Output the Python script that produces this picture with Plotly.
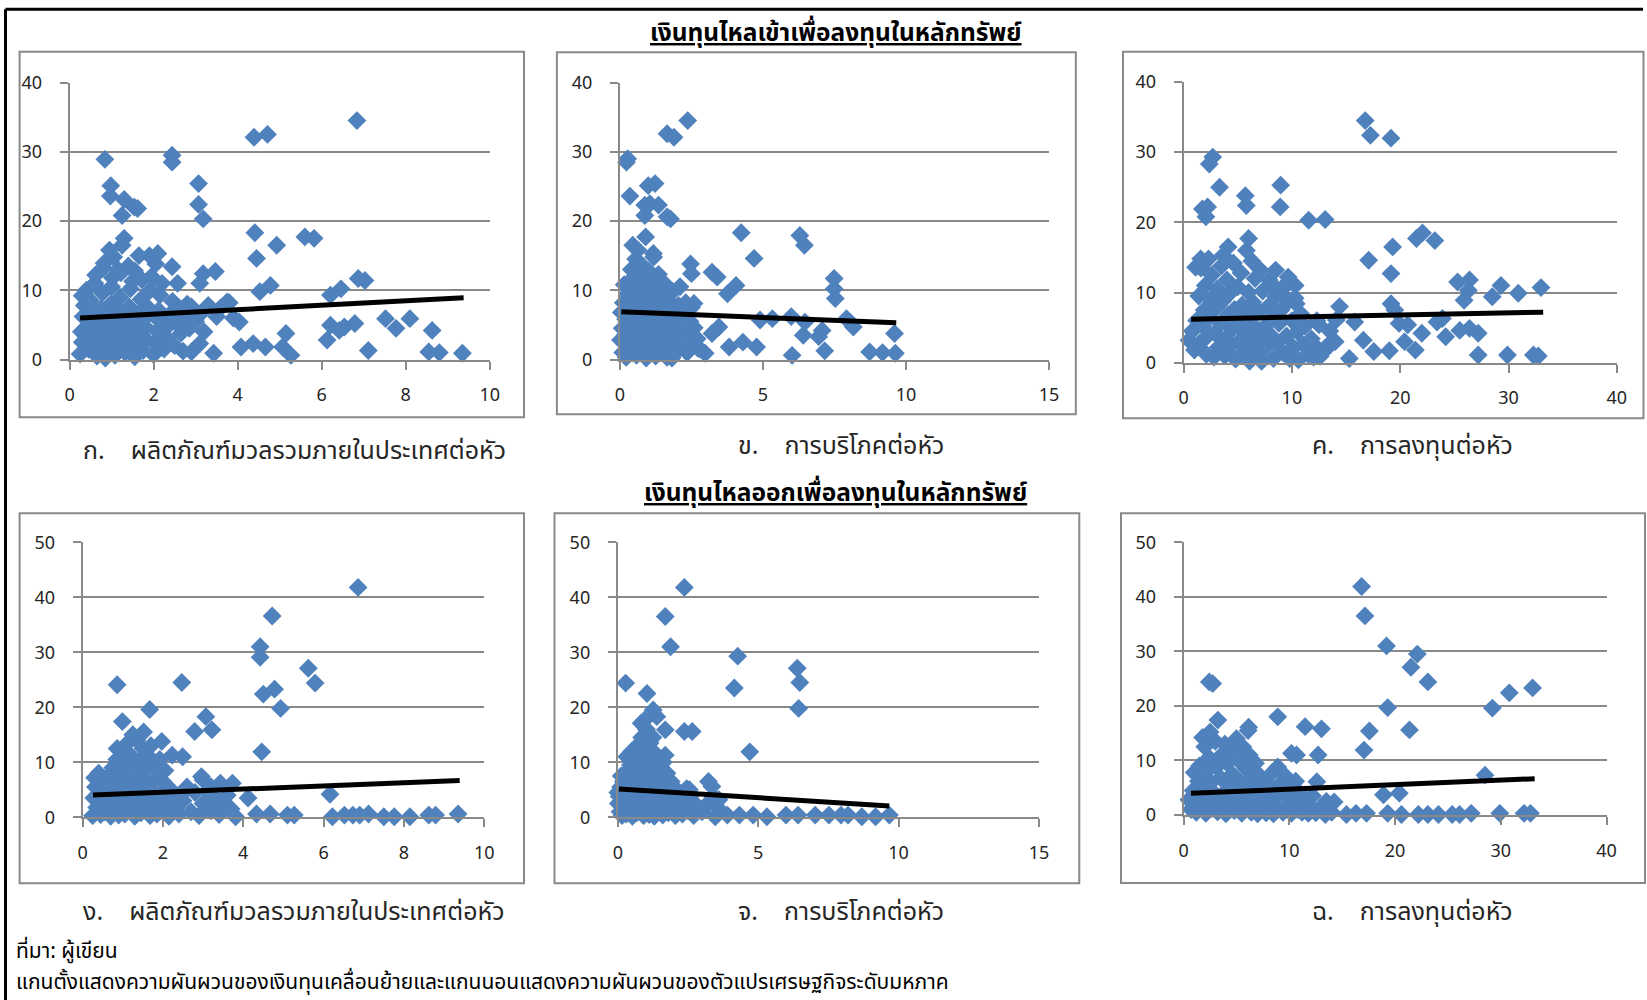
import plotly.graph_objects as go

# ---------------- DATA ----------------
# x: GDP per capita volatility, y: portfolio inflow volatility
gdp_inflow = [
    (6.84, 34.5), (4.39, 32.1), (4.71, 32.5), (0.84, 28.9), (2.44, 29.5), (2.44, 28.5),
    (3.07, 25.4), (0.98, 25.1), (0.97, 23.6), (3.07, 22.4), (3.18, 20.3), (1.30, 23.1),
    (1.54, 22.0), (1.62, 21.8), (1.25, 20.8), (4.41, 18.3), (4.45, 14.6), (4.93, 16.5),
    (5.60, 17.7), (5.82, 17.5), (6.87, 11.7), (7.03, 11.4), (4.78, 10.7), (4.53, 9.8),
    (6.46, 10.2), (6.21, 9.3), (3.47, 12.7), (3.18, 12.4), (3.10, 11.0), (2.44, 13.4),
    (2.57, 11.0), (3.75, 8.3), (4.04, 5.4), (3.50, 6.2), (7.52, 5.9), (7.77, 4.5),
    (8.10, 5.9), (8.63, 4.2), (8.55, 1.1), (8.80, 1.0), (9.35, 0.9), (7.11, 1.3),
    (6.13, 2.8), (6.21, 4.95), (6.54, 4.7), (6.79, 5.2), (6.42, 4.2), (5.15, 3.75),
    (5.27, 0.6), (5.07, 1.8), (4.08, 1.8), (4.37, 2.3), (4.66, 1.8), (3.43, 0.9),
    (3.10, 2.3), (2.90, 1.1),
    (0.25, 0.8), (0.30, 2.5), (0.28, 4.0), (0.32, 6.2), (0.35, 7.8), (0.30, 9.2), (0.40, 10.0),
    (0.45, 1.5), (0.50, 3.3), (0.48, 5.1), (0.55, 6.8), (0.50, 8.5), (0.60, 11.0), (0.62, 12.2),
    (0.65, 0.5), (0.70, 2.0), (0.72, 4.4), (0.68, 5.9), (0.75, 7.3), (0.78, 9.6), (0.80, 13.2),
    (0.82, 13.9), (0.85, 0.2), (0.88, 1.2), (0.90, 3.0), (0.92, 4.8), (0.95, 6.5), (0.98, 8.0),
    (1.00, 10.5), (1.02, 11.8), (1.05, 14.8), (1.08, 0.6), (1.10, 2.2), (1.12, 3.8), (1.15, 5.5),
    (1.18, 7.0), (1.20, 9.0), (1.22, 12.5), (1.25, 16.5), (1.30, 17.5), (1.32, 1.0), (1.35, 2.8),
    (1.38, 4.5), (1.40, 6.0), (1.42, 7.6), (1.45, 10.2), (1.50, 11.3), (1.55, 0.4), (1.58, 2.0),
    (1.60, 3.6), (1.62, 5.2), (1.65, 15.0), (1.68, 6.8), (1.70, 8.7), (1.72, 11.5), (1.75, 1.3),
    (1.80, 3.0), (1.82, 4.6), (1.85, 6.3), (1.88, 7.4), (1.90, 15.0), (1.92, 10.0), (1.95, 12.0),
    (2.00, 0.7), (2.02, 2.4), (2.05, 13.8), (2.08, 4.1), (2.10, 5.8), (2.12, 7.1), (2.15, 9.3),
    (2.20, 11.0), (2.25, 1.5), (2.30, 3.2), (2.35, 4.9), (2.40, 6.6), (2.45, 8.4), (2.50, 2.0),
    (2.55, 5.2), (2.60, 7.5), (2.65, 3.8), (2.70, 1.2), (2.75, 6.0), (2.80, 8.0), (2.85, 4.5),
    (2.90, 7.6), (3.00, 5.5), (3.10, 6.5), (3.20, 4.0), (3.30, 7.8), (3.60, 7.5), (3.80, 8.2),
    (3.90, 6.0), (1.15, 13.0), (0.95, 15.8), (1.40, 13.5), (2.10, 15.3), (1.55, 12.8),
]

# x: consumption per capita volatility, y: portfolio inflow volatility
cons_inflow = [
    (2.37, 34.5), (1.65, 32.6), (1.89, 32.1), (0.27, 29.0), (0.23, 28.5), (0.35, 23.6),
    (0.99, 25.1), (1.23, 25.4), (0.87, 22.3), (1.05, 22.5), (1.35, 22.3), (0.87, 20.8),
    (1.65, 20.6), (1.77, 20.3), (4.24, 18.3), (6.29, 17.9), (6.45, 16.5), (4.69, 14.6),
    (0.90, 17.7), (0.45, 16.5), (0.63, 15.8), (1.17, 15.3), (2.47, 13.8), (2.50, 12.4),
    (3.22, 12.6), (3.40, 11.9), (4.06, 10.7), (3.76, 9.5), (7.49, 11.7), (7.49, 10.2),
    (7.53, 8.8), (4.90, 5.7), (5.33, 5.9), (5.99, 6.2), (6.47, 5.4), (6.41, 3.5),
    (7.07, 4.2), (6.95, 3.3), (7.92, 5.9), (8.16, 4.7), (8.04, 5.4), (6.02, 0.6),
    (7.16, 1.25), (8.73, 1.1), (9.18, 1.0), (9.63, 0.9), (9.60, 3.75), (4.30, 2.5),
    (4.78, 1.8), (3.82, 1.8), (2.98, 0.9), (2.73, 1.6), (3.22, 3.75), (3.46, 4.7),
    (2.59, 8.1),
    (0.02, 2.8), (0.05, 6.8), (0.08, 4.5), (0.10, 1.0), (0.12, 8.2), (0.15, 10.8), (0.18, 3.5),
    (0.20, 5.8), (0.22, 0.3), (0.25, 7.5), (0.28, 9.5), (0.30, 2.0), (0.32, 11.2), (0.35, 4.2),
    (0.38, 6.3), (0.40, 13.0), (0.42, 1.2), (0.45, 8.8), (0.48, 3.0), (0.50, 10.0), (0.52, 5.0),
    (0.55, 14.5), (0.58, 0.6), (0.60, 7.0), (0.62, 12.0), (0.65, 2.5), (0.68, 4.8), (0.70, 9.0),
    (0.72, 6.0), (0.75, 11.5), (0.78, 1.5), (0.80, 13.5), (0.82, 3.6), (0.85, 8.0), (0.88, 5.5),
    (0.90, 10.5), (0.92, 0.2), (0.95, 2.2), (0.98, 7.2), (1.00, 12.8), (1.02, 4.0), (1.05, 9.5),
    (1.08, 6.5), (1.10, 1.0), (1.12, 11.0), (1.15, 3.2), (1.18, 14.8), (1.20, 8.5), (1.22, 5.2),
    (1.25, 0.5), (1.28, 10.2), (1.30, 2.7), (1.32, 7.0), (1.35, 12.3), (1.38, 4.5), (1.40, 6.1),
    (1.45, 1.8), (1.50, 9.0), (1.52, 3.5), (1.55, 11.0), (1.60, 5.0), (1.62, 7.6), (1.65, 0.3),
    (1.70, 2.4), (1.72, 8.4), (1.75, 4.2), (1.80, 6.5), (1.82, 0.2), (1.85, 9.8), (1.90, 3.0),
    (1.95, 5.6), (2.00, 1.2), (2.05, 7.8), (2.10, 10.5), (2.15, 4.0), (2.20, 2.0), (2.25, 6.2),
    (2.30, 8.2), (2.35, 1.0), (2.40, 3.8), (2.45, 5.5), (2.50, 7.5), (2.55, 2.2), (2.60, 4.6),
    (2.70, 3.0), (2.80, 1.5),
]

# x: investment per capita volatility, y: portfolio inflow volatility
inv_inflow = [
    (16.77, 34.5), (17.25, 32.4), (19.15, 32.0), (2.69, 29.3), (2.37, 28.3), (3.32, 25.0),
    (8.96, 25.3), (8.92, 22.2), (5.70, 23.8), (5.79, 22.4), (1.74, 21.9), (2.22, 22.2),
    (2.06, 20.8), (11.55, 20.3), (13.07, 20.4), (21.50, 17.7), (22.06, 18.5), (23.20, 17.4),
    (19.30, 16.5), (17.09, 14.6), (19.15, 12.7), (6.00, 17.7), (4.11, 16.5), (3.64, 15.3),
    (1.58, 14.8), (1.11, 13.6), (25.30, 11.5), (26.40, 11.8), (26.30, 10.3), (25.90, 8.9),
    (29.30, 11.0), (28.50, 9.4), (30.90, 9.9), (33.00, 10.7), (25.50, 4.6), (26.40, 4.9),
    (27.20, 4.2), (27.20, 1.1), (29.90, 1.1), (32.30, 1.1), (32.75, 0.95), (24.20, 3.7),
    (23.40, 5.8), (23.90, 6.3), (22.00, 4.2), (21.40, 1.8), (20.40, 3.0), (19.15, 8.4),
    (19.50, 7.5), (19.90, 5.6), (20.70, 5.4), (19.00, 1.7), (16.60, 3.2), (17.56, 1.6),
    (15.30, 0.6), (15.80, 5.8), (14.40, 8.0), (14.10, 6.1), (12.50, 5.4), (13.80, 3.2),
    (13.40, 2.3), (12.20, 2.3), (12.60, 0.9), (10.30, 11.0), (9.65, 12.2), (10.40, 8.4),
    (8.50, 13.2), (8.07, 11.3), (9.00, 10.3),
    (0.5, 3.2), (0.8, 4.5), (1.0, 1.8), (1.2, 6.0), (1.4, 9.5), (1.5, 2.8), (1.6, 13.5),
    (1.8, 5.2), (1.9, 7.5), (2.0, 11.0), (2.1, 1.2), (2.2, 3.8), (2.3, 14.8), (2.4, 6.6),
    (2.5, 9.0), (2.6, 12.5), (2.8, 0.8), (2.9, 4.2), (3.0, 7.8), (3.1, 10.5), (3.2, 2.2),
    (3.4, 5.5), (3.5, 13.8), (3.6, 8.8), (3.8, 1.0), (3.9, 3.5), (4.0, 11.8), (4.1, 6.8),
    (4.2, 9.8), (4.4, 2.5), (4.5, 4.8), (4.6, 14.2), (4.7, 7.6), (4.8, 0.5), (5.0, 10.8),
    (5.1, 3.0), (5.2, 5.8), (5.3, 12.8), (5.4, 8.2), (5.6, 1.6), (5.7, 4.2), (5.8, 16.0),
    (5.9, 6.8), (6.0, 10.0), (6.1, 0.2), (6.2, 2.8), (6.3, 14.5), (6.4, 8.6), (6.5, 5.2),
    (6.6, 12.0), (6.8, 1.2), (6.9, 3.6), (7.0, 7.2), (7.1, 13.2), (7.2, 0.2), (7.3, 10.2),
    (7.4, 5.0), (7.6, 2.2), (7.8, 8.0), (7.9, 11.8), (8.0, 4.0), (8.2, 6.2), (8.3, 0.6),
    (8.5, 9.4), (8.6, 2.8), (8.8, 5.6), (9.0, 7.5), (9.2, 1.4), (9.3, 11.0), (9.5, 3.8),
    (9.7, 8.8), (9.8, 0.6), (10.0, 6.0), (10.1, 2.2), (10.3, 9.2), (10.5, 4.4), (10.6, 0.4),
    (10.8, 7.0), (11.0, 2.6), (11.2, 5.2), (11.5, 1.2), (11.8, 3.4), (12.0, 0.8), (12.3, 6.0),
    (13.0, 2.0), (13.5, 4.5), (14.0, 3.0),
]

# x: GDP per capita volatility, y: portfolio outflow volatility
gdp_outflow = [
    (6.86, 41.8), (4.72, 36.6), (4.42, 31.0), (4.42, 29.1), (5.62, 27.1), (5.79, 24.4),
    (0.86, 24.1), (2.47, 24.5), (4.50, 22.4), (4.78, 23.3), (4.93, 19.8), (1.67, 19.6),
    (3.07, 18.3), (3.22, 15.9), (2.79, 15.6), (4.46, 11.9), (2.23, 11.3), (2.49, 11.0),
    (1.97, 13.8), (0.99, 17.4), (0.86, 12.5), (2.96, 7.4), (3.43, 6.2), (3.73, 6.2),
    (4.12, 3.5), (6.16, 4.2), (3.81, 0.1), (4.33, 0.6), (4.67, 0.6), (5.10, 0.4),
    (5.27, 0.4), (6.22, 0.1), (6.52, 0.4), (6.73, 0.4), (6.90, 0.4), (7.12, 0.6),
    (7.50, 0.1), (7.76, 0.1), (8.15, 0.1), (8.62, 0.4), (8.79, 0.4), (9.35, 0.6),
    (0.25, 0.3), (0.28, 3.5), (0.30, 7.2), (0.32, 5.5), (0.35, 1.8), (0.40, 8.0), (0.42, 4.5),
    (0.45, 0.5), (0.50, 2.8), (0.52, 6.2), (0.55, 1.0), (0.60, 5.0), (0.62, 3.0), (0.65, 7.5),
    (0.70, 0.2), (0.72, 2.2), (0.75, 9.0), (0.78, 4.2), (0.80, 6.4), (0.82, 1.2), (0.85, 10.5),
    (0.88, 3.5), (0.90, 0.4), (0.92, 8.2), (0.95, 5.5), (0.98, 12.0), (1.00, 2.0), (1.02, 7.0),
    (1.05, 0.6), (1.08, 9.8), (1.10, 4.0), (1.12, 13.5), (1.15, 1.5), (1.18, 6.0), (1.20, 11.2),
    (1.22, 3.0), (1.25, 15.0), (1.28, 8.5), (1.30, 0.2), (1.32, 5.2), (1.35, 14.0), (1.38, 2.5),
    (1.40, 10.0), (1.42, 7.2), (1.45, 0.8), (1.48, 4.5), (1.50, 12.5), (1.52, 15.5), (1.55, 1.8),
    (1.58, 8.8), (1.60, 6.0), (1.62, 3.2), (1.65, 11.0), (1.68, 0.3), (1.70, 13.0), (1.72, 5.0),
    (1.75, 2.0), (1.78, 9.5), (1.80, 7.0), (1.85, 0.6), (1.90, 4.0), (1.92, 10.5), (1.95, 1.2),
    (2.00, 6.5), (2.05, 8.5), (2.10, 2.8), (2.15, 0.2), (2.20, 5.0), (2.25, 1.5), (2.30, 4.0),
    (2.40, 0.6), (2.50, 3.0), (2.60, 5.5), (2.70, 1.0), (2.80, 4.5), (2.90, 0.3), (3.00, 2.5),
    (3.10, 4.8), (3.20, 1.2), (3.30, 3.5), (3.40, 0.5), (3.50, 2.2), (3.60, 4.0), (3.70, 1.5),
    (3.00, 6.8), (3.20, 5.5), (2.55, 4.8),
]

# x: consumption per capita volatility, y: portfolio outflow volatility
cons_outflow = [
    (2.37, 41.8), (1.69, 36.5), (1.88, 31.0), (4.27, 29.3), (4.15, 23.5), (6.39, 27.1),
    (6.48, 24.5), (6.44, 19.8), (0.28, 24.4), (1.04, 22.5), (4.70, 11.9), (2.37, 15.6),
    (2.65, 15.6), (1.69, 15.9), (1.26, 19.5), (1.39, 18.3), (0.83, 17.1), (0.96, 17.7),
    (1.69, 11.3), (3.23, 6.5), (3.35, 5.6), (2.55, 5.0), (2.86, 1.9), (3.60, 3.2),
    (3.47, 0.1), (3.90, 0.4), (4.33, 0.4), (4.82, 0.4), (5.31, 0.1), (5.99, 0.4),
    (6.42, 0.4), (7.03, 0.4), (7.52, 0.4), (7.95, 0.4), (8.20, 0.4), (8.69, 0.1),
    (9.18, 0.1), (9.67, 0.4),
    (0.00, 4.5), (0.02, 2.5), (0.05, 3.8), (0.08, 1.0), (0.10, 5.5), (0.12, 7.5), (0.15, 0.3),
    (0.18, 3.0), (0.20, 6.5), (0.22, 1.8), (0.25, 4.0), (0.28, 8.0), (0.30, 0.6), (0.32, 11.0),
    (0.35, 2.5), (0.38, 5.0), (0.40, 7.0), (0.42, 1.2), (0.45, 9.5), (0.48, 3.5), (0.50, 12.0),
    (0.52, 0.2), (0.55, 6.0), (0.58, 4.2), (0.60, 10.5), (0.62, 2.0), (0.65, 8.5), (0.68, 0.8),
    (0.70, 13.0), (0.72, 5.5), (0.75, 3.2), (0.78, 11.5), (0.80, 7.2), (0.82, 1.5), (0.85, 14.5),
    (0.88, 4.5), (0.90, 9.0), (0.92, 0.3), (0.95, 6.2), (0.98, 12.5), (1.00, 2.5), (1.02, 16.0),
    (1.05, 8.0), (1.08, 4.0), (1.10, 10.5), (1.12, 0.5), (1.15, 13.5), (1.18, 6.0), (1.20, 2.0),
    (1.22, 9.0), (1.25, 14.5), (1.28, 4.8), (1.30, 0.2), (1.32, 7.5), (1.35, 11.5), (1.38, 3.0),
    (1.40, 5.8), (1.45, 1.0), (1.48, 9.8), (1.50, 7.0), (1.55, 3.8), (1.60, 0.4), (1.62, 10.0),
    (1.65, 5.5), (1.70, 2.2), (1.75, 8.0), (1.80, 0.8), (1.85, 4.5), (1.90, 6.5), (1.95, 1.5),
    (2.00, 3.0), (2.05, 0.3), (2.10, 5.0), (2.15, 2.0), (2.20, 4.0), (2.30, 0.6), (2.40, 2.8),
    (2.45, 5.2), (2.50, 1.2), (2.60, 4.0), (2.70, 0.3), (2.80, 2.2), (3.00, 1.0), (3.20, 2.5),
    (3.40, 3.8), (3.60, 1.5),
]

# x: investment per capita volatility, y: portfolio outflow volatility
inv_outflow = [
    (16.83, 41.9), (17.15, 36.5), (19.19, 31.0), (21.50, 27.1), (22.10, 29.5), (23.10, 24.4),
    (2.43, 24.4), (2.75, 24.1), (19.30, 19.7), (29.20, 19.6), (30.80, 22.4), (33.00, 23.3),
    (17.57, 15.4), (17.06, 11.9), (21.36, 15.6), (8.90, 18.0), (11.49, 16.2), (13.04, 15.8),
    (12.72, 11.0), (10.20, 11.3), (10.68, 11.0), (3.24, 17.4), (6.15, 16.1), (12.60, 6.1),
    (28.50, 7.3), (18.90, 3.7), (20.40, 4.0), (14.24, 2.4), (29.90, 0.3), (32.20, 0.3),
    (32.80, 0.3), (13.40, 0.1), (15.40, 0.1), (16.30, 0.3), (17.30, 0.3), (19.30, 0.3),
    (20.60, 0.1), (22.20, 0.1), (23.10, 0.1), (24.10, 0.1), (25.40, 0.1), (26.10, 0.1),
    (27.20, 0.3),
    (0.5, 2.8), (0.7, 1.0), (0.9, 4.5), (1.0, 7.8), (1.2, 0.5), (1.3, 3.2), (1.4, 6.2),
    (1.5, 9.0), (1.7, 1.8), (1.8, 14.2), (1.9, 5.0), (2.0, 12.5), (2.1, 0.3), (2.2, 8.0),
    (2.3, 3.0), (2.4, 10.5), (2.5, 15.2), (2.6, 6.0), (2.7, 1.2), (2.8, 4.2), (3.0, 13.5),
    (3.1, 8.8), (3.2, 0.6), (3.4, 2.5), (3.5, 6.8), (3.6, 11.0), (3.8, 4.0), (3.9, 13.0),
    (4.0, 0.2), (4.1, 9.5), (4.2, 2.0), (4.4, 5.5), (4.5, 12.0), (4.6, 7.5), (4.8, 0.8),
    (5.0, 14.0), (5.1, 3.5), (5.2, 10.0), (5.4, 6.0), (5.5, 0.3), (5.6, 12.5), (5.8, 2.2),
    (5.9, 8.5), (6.0, 4.5), (6.1, 15.5), (6.2, 11.0), (6.4, 0.5), (6.5, 6.8), (6.6, 2.8),
    (6.8, 9.5), (7.0, 0.2), (7.1, 4.8), (7.2, 7.2), (7.4, 1.5), (7.5, 3.5), (7.6, 6.0),
    (7.8, 0.4), (8.0, 2.5), (8.2, 5.0), (8.4, 7.8), (8.5, 0.2), (8.7, 3.2), (8.9, 8.8),
    (9.0, 1.2), (9.2, 5.8), (9.4, 0.5), (9.5, 3.8), (9.7, 7.0), (9.9, 1.8), (10.0, 5.2),
    (10.2, 0.3), (10.4, 3.0), (10.6, 6.2), (10.8, 1.0), (11.0, 4.0), (11.2, 0.5), (11.4, 2.5),
    (11.8, 0.3), (12.0, 1.5), (12.2, 3.5), (12.5, 0.4), (13.0, 1.5), (13.5, 2.5), (14.0, 0.5),
]

# linear trend line end points (x, y)
gdp_inflow_trend = [(0.25, 6.0), (9.38, 8.9)]
cons_inflow_trend = [(0.05, 6.9), (9.66, 5.3)]
inv_inflow_trend = [(0.7, 6.2), (33.2, 7.2)]
gdp_outflow_trend = [(0.26, 4.06), (9.39, 6.67)]
cons_outflow_trend = [(0.04, 5.15), (9.67, 2.06)]
inv_outflow_trend = [(0.7, 3.97), (33.2, 6.66)]

x_ranges = [[0, 10], [0, 15], [0, 40], [0, 10], [0, 15], [0, 40]]
x_dticks = [2, 5, 10, 2, 5, 10]
y_ranges = [[0, 40], [0, 40], [0, 40], [0, 50], [0, 50], [0, 50]]
y_dticks = [10, 10, 10, 10, 10, 10]

captions = [
    "ก.\u00a0\u00a0\u00a0\u00a0ผลิตภัณฑ์มวลรวมภายในประเทศต่อหัว",
    "ข.\u00a0\u00a0\u00a0\u00a0การบริโภคต่อหัว",
    "ค.\u00a0\u00a0\u00a0\u00a0การลงทุนต่อหัว",
    "ง.\u00a0\u00a0\u00a0\u00a0ผลิตภัณฑ์มวลรวมภายในประเทศต่อหัว",
    "จ.\u00a0\u00a0\u00a0\u00a0การบริโภคต่อหัว",
    "ฉ.\u00a0\u00a0\u00a0\u00a0การลงทุนต่อหัว",
]
title_in = "เงินทุนไหลเข้าเพื่อลงทุนในหลักทรัพย์"
title_out = "เงินทุนไหลออกเพื่อลงทุนในหลักทรัพย์"
source_note = "ที่มา: ผู้เขียน"
axis_note = "แกนตั้งแสดงความผันผวนของเงินทุนเคลื่อนย้ายและแกนนอนแสดงความผันผวนของตัวแปรเศรษฐกิจระดับมหภาค"

# ---------------- LAYOUT (pixel geometry) ----------------
W, H = 1647, 1000
BLUE = "#4F81BD"
GRID = "#898989"
TXT = "#262626"
THAI = "Noto Sans Thai, Noto Sans Thai Looped, Loma, Garuda, Tlwg Typo, DejaVu Sans, sans-serif"
NUM = "Noto Sans, DejaVu Sans, sans-serif"

datasets = [gdp_inflow, cons_inflow, inv_inflow, gdp_outflow, cons_outflow, inv_outflow]
trends = [gdp_inflow_trend, cons_inflow_trend, inv_inflow_trend,
          gdp_outflow_trend, cons_outflow_trend, inv_outflow_trend]

# plot areas (x0, x1, ytop, ybottom) in pixels
plot_px = [(69.6, 489.7, 82.5, 359.5), (619.9, 1049.0, 82.5, 359.5),
           (1183.6, 1616.8, 82.0, 362.7), (82.6, 484.2, 542.3, 817.3),
           (617.8, 1039.0, 542.3, 817.3), (1183.6, 1606.6, 542.3, 815.0)]
# chart boxes (x0, x1, ytop, ybottom)
box_px = [(19.6, 524.0, 51.7, 417.3), (556.9, 1075.8, 52.3, 414.3),
          (1123.0, 1643.5, 51.7, 418.3), (19.6, 524.0, 513.3, 883.3),
          (554.5, 1079.3, 513.3, 883.3), (1121.0, 1645.0, 513.3, 883.0)]
cap_px = [(81, 451), (736, 446), (1310, 446), (81, 912), (736, 912), (1310, 912)]


def px(x):
    return x / W


def py(y):
    return 1 - y / H


fig = go.Figure()
layout = dict(width=W, height=H, margin=dict(l=0, r=0, t=0, b=0, pad=0),
              paper_bgcolor="white", plot_bgcolor="white", showlegend=False)
shapes = []
annotations = []

for i in range(6):
    n = i + 1
    xa = "x" if n == 1 else f"x{n}"
    ya = "y" if n == 1 else f"y{n}"
    x0, x1, yt, yb = plot_px[i]
    axcommon = dict(showgrid=True, gridcolor=GRID, gridwidth=2, showline=True,
                    linecolor=GRID, linewidth=2, ticks="outside", ticklen=8,
                    tickcolor=GRID, tickwidth=2, zeroline=False, automargin=False,
                    fixedrange=True, tickfont=dict(family=NUM, size=18, color=TXT))
    layout[f"xaxis{n}"] = dict(axcommon, domain=[px(x0), px(x1)], range=x_ranges[i],
                               dtick=x_dticks[i], tick0=0, anchor=ya, showgrid=False,
                               ticklabelstandoff=10)
    layout[f"yaxis{n}"] = dict(axcommon, domain=[py(yb), py(yt)], range=y_ranges[i],
                               dtick=y_dticks[i], tick0=0, anchor=xa,
                               ticklabelstandoff=14)
    pts = datasets[i]
    fig.add_trace(go.Scatter(
        x=[p[0] for p in pts], y=[p[1] for p in pts], mode="markers",
        marker=dict(symbol="diamond", size=14.5, color=BLUE, line=dict(width=0)),
        cliponaxis=False, xaxis=xa, yaxis=ya, hoverinfo="skip"))
    tr = trends[i]
    fig.add_trace(go.Scatter(
        x=[p[0] for p in tr], y=[p[1] for p in tr], mode="lines",
        line=dict(color="black", width=5), cliponaxis=False,
        xaxis=xa, yaxis=ya, hoverinfo="skip"))
    bx0, bx1, by0, by1 = box_px[i]
    shapes.append(dict(type="rect", xref="paper", yref="paper",
                       x0=px(bx0), x1=px(bx1), y0=py(by1), y1=py(by0),
                       line=dict(color=GRID, width=2), layer="below"))
    cx, cy = cap_px[i]
    annotations.append(dict(text=captions[i], xref="paper", yref="paper",
                            x=px(cx), y=py(cy), xanchor="left", yanchor="middle",
                            showarrow=False, font=dict(family=THAI, size=25, color=TXT)))

# titles
annotations.append(dict(text=f"<b><u>{title_in}</u></b>", xref="paper", yref="paper",
                        x=px(836), y=py(33), xanchor="center", yanchor="middle",
                        showarrow=False, font=dict(family=THAI, size=24.5, color="black")))
annotations.append(dict(text=f"<b><u>{title_out}</u></b>", xref="paper", yref="paper",
                        x=px(836), y=py(493), xanchor="center", yanchor="middle",
                        showarrow=False, font=dict(family=THAI, size=24.5, color="black")))
annotations.append(dict(text=source_note, xref="paper", yref="paper",
                        x=px(14), y=py(951), xanchor="left", yanchor="middle",
                        showarrow=False, font=dict(family=THAI, size=21, color="black")))
annotations.append(dict(text=axis_note, xref="paper", yref="paper",
                        x=px(14), y=0, xanchor="left", yanchor="bottom",
                        showarrow=False, font=dict(family=THAI, size=21, color="black")))

# outer frame lines (top and left)
shapes.append(dict(type="line", xref="paper", yref="paper", x0=px(5.5), x1=px(1643),
                   y0=py(9.3), y1=py(9.3), line=dict(color="black", width=3)))
shapes.append(dict(type="line", xref="paper", yref="paper", x0=px(5.5), x1=px(5.5),
                   y0=py(9.3), y1=py(1000), line=dict(color="black", width=3)))

layout["shapes"] = shapes
layout["annotations"] = annotations
fig.update_layout(**layout)

# remove default page margin so the figure sits at (0, 0) of the window
post_js = ("document.body.style.margin='0';document.body.style.padding='0';"
           "document.body.style.overflow='hidden';"
           "var d=document.getElementById('{plot_id}');"
           "d.style.position='absolute';d.style.left='0px';d.style.top='0px';")
fig.write_html("out.html", post_script=post_js, config={"displayModeBar": False})
